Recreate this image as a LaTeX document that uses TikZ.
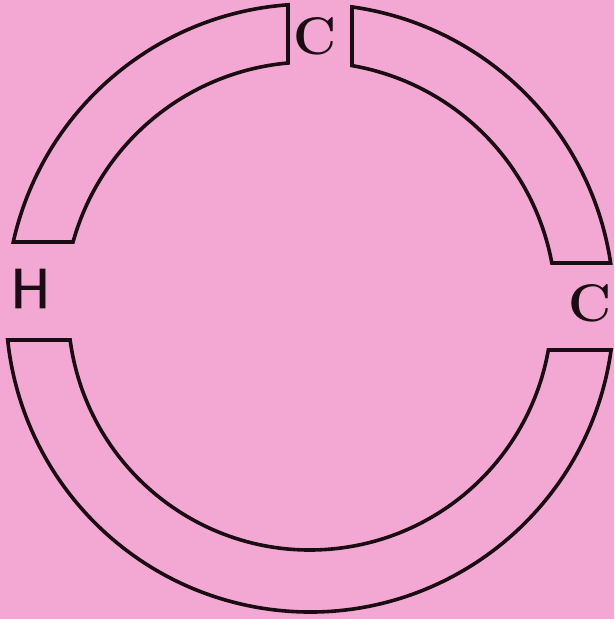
\documentclass[tikz,border=0pt]{standalone}
\usepackage{fontspec}
\newfontfamily\hfont{lmsans10-regular.otf}[FakeBold=1.6]
\definecolor{paper}{RGB}{243,168,211}
\definecolor{ink}{RGB}{25,12,18}
\tikzset{
  segment/.style={draw=ink, line width=3.6pt, line join=miter},
  letter/.style={text=ink, inner sep=0pt, font=\bfseries\fontsize{53}{53}\selectfont},
  hletter/.style={text=ink, inner sep=0pt, font=\hfont\fontsize{56}{56}\selectfont}
}
\begin{document}
\begin{tikzpicture}[x=1pt,y=1pt]
\fill[paper] (0,0) rectangle (614,619);
\useasboundingbox (0,0) rectangle (614,619);
\begin{scope}[shift={(310pt,311pt)}]
  % top-left segment
  \draw[segment] (167.46:304pt) arc[start angle=167.46, end angle=94.15, radius=304pt]
     -- (95.13:246pt) arc[start angle=95.13, end angle=164.44, radius=246pt] -- cycle;
  % top-right segment
  \draw[segment] (82.06:304pt) arc[start angle=82.06, end angle=8.51, radius=304pt]
     -- (10.54:246pt) arc[start angle=10.54, end angle=80.17, radius=246pt] -- cycle;
  % bottom segment
  \draw[segment] (-7.94:304pt) arc[start angle=-7.94, end angle=-173.96, radius=304pt]
     -- (-172.40:242pt) arc[start angle=-172.40, end angle=-9.99, radius=242pt] -- cycle;
\end{scope}
\node[letter] (ctop) at (315,582.5) {C};
\node[letter] (cright) at (590,315.5) {C};
\node[hletter] (hleft) at (30.5,330.5) {H};
\end{tikzpicture}
\end{document}
